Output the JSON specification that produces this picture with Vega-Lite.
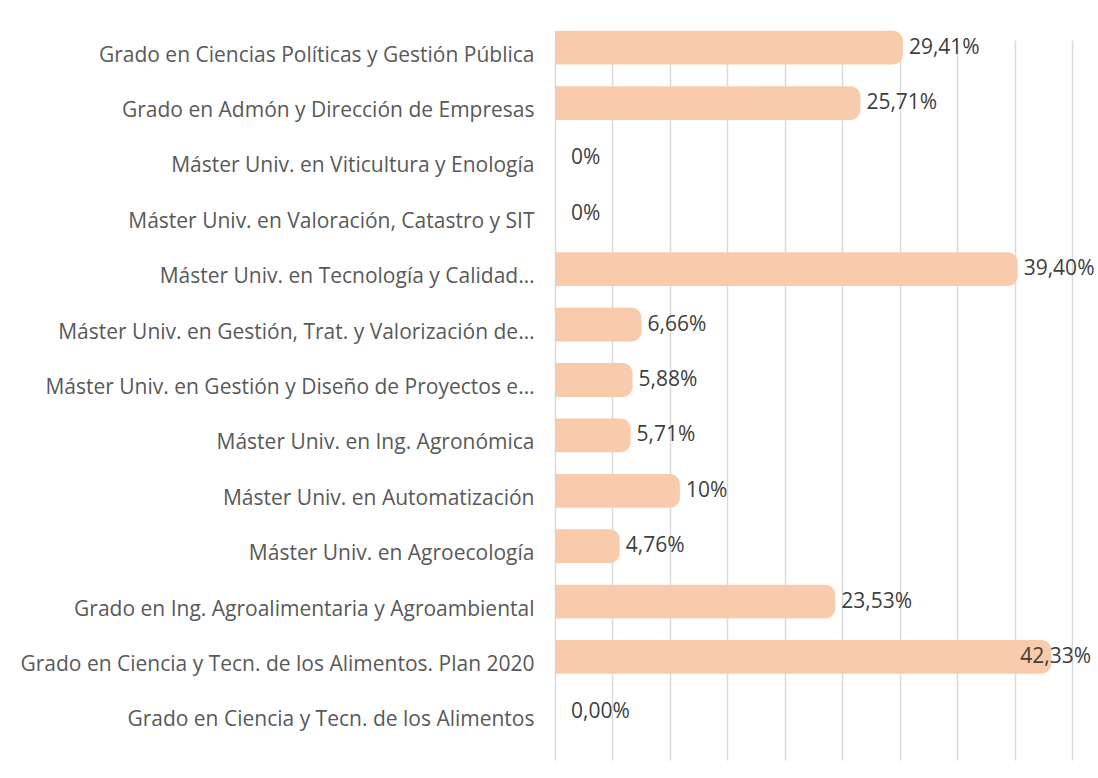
{
  "$schema": "https://vega.github.io/schema/vega-lite/v6.json",
  "autosize": "none",
  "width": 517,
  "height": 720,
  "padding": {"left": 555, "top": 30, "right": 26, "bottom": 28},
  "background": "white",
  "config": {"view": {"stroke": null}, "font": "Open Sans"},
  "data": {"values": [
    {"titulacion": "Grado en Ciencias Políticas y Gestión Pública", "valor": 29.41, "etiqueta": "29,41%"},
    {"titulacion": "Grado en Admón y Dirección de Empresas", "valor": 25.71, "etiqueta": "25,71%"},
    {"titulacion": "Máster Univ. en Viticultura y Enología", "valor": 0, "etiqueta": "0%"},
    {"titulacion": "Máster Univ. en Valoración, Catastro y SIT", "valor": 0, "etiqueta": "0%"},
    {"titulacion": "Máster Univ. en Tecnología y Calidad…", "valor": 39.40, "etiqueta": "39,40%"},
    {"titulacion": "Máster Univ. en Gestión, Trat. y Valorización de…", "valor": 6.66, "etiqueta": "6,66%"},
    {"titulacion": "Máster Univ. en Gestión y Diseño de Proyectos e…", "valor": 5.88, "etiqueta": "5,88%"},
    {"titulacion": "Máster Univ. en Ing. Agronómica", "valor": 5.71, "etiqueta": "5,71%"},
    {"titulacion": "Máster Univ. en Automatización", "valor": 10, "etiqueta": "10%"},
    {"titulacion": "Máster Univ. en Agroecología", "valor": 4.76, "etiqueta": "4,76%"},
    {"titulacion": "Grado en Ing. Agroalimentaria y Agroambiental", "valor": 23.53, "etiqueta": "23,53%"},
    {"titulacion": "Grado en Ciencia y Tecn. de los Alimentos. Plan 2020", "valor": 42.33, "etiqueta": "42,33%"},
    {"titulacion": "Grado en Ciencia y Tecn. de los Alimentos", "valor": 0, "etiqueta": "0,00%"}
  ]},
  "encoding": {
    "y": {"field": "titulacion", "type": "nominal",
      "sort": [
        "Grado en Ciencias Políticas y Gestión Pública",
        "Grado en Admón y Dirección de Empresas",
        "Máster Univ. en Viticultura y Enología",
        "Máster Univ. en Valoración, Catastro y SIT",
        "Máster Univ. en Tecnología y Calidad…",
        "Máster Univ. en Gestión, Trat. y Valorización de…",
        "Máster Univ. en Gestión y Diseño de Proyectos e…",
        "Máster Univ. en Ing. Agronómica",
        "Máster Univ. en Automatización",
        "Máster Univ. en Agroecología",
        "Grado en Ing. Agroalimentaria y Agroambiental",
        "Grado en Ciencia y Tecn. de los Alimentos. Plan 2020",
        "Grado en Ciencia y Tecn. de los Alimentos"
      ],
      "scale": {"paddingInner": 0.39, "paddingOuter": 0.195, "range": [-10, 710]},
      "axis": {"title": null, "ticks": false, "domain": false, "grid": false, "labelPadding": 21,
        "labelOffset": 8, "labelLimit": 0, "labelFontSize": 21, "labelColor": "#595959", "labelFont": "Open Sans"}}
  },
  "layer": [
    {
      "transform": [{"filter": "datum.valor > 0"}],
      "mark": {"type": "bar", "color": "#F8CBAD", "xOffset": 10, "cornerRadiusTopRight": 10, "cornerRadiusBottomRight": 10},
      "encoding": {
        "x": {"field": "valor", "type": "quantitative",
          "scale": {"domain": [0, 45], "nice": false, "zero": true},
          "axis": {"title": null, "labels": false, "ticks": false, "domain": false, "grid": true,
            "values": [0, 5, 10, 15, 20, 25, 30, 35, 40, 45], "gridColor": "#D9D9D9", "gridWidth": 1.5}},
        "x2": {"datum": 0}
      }
    },
    {
      "mark": {"type": "text", "align": "left", "baseline": "middle", "fontSize": 21, "color": "#404040",
        "dx": {"expr": "datum.valor > 40 ? -21 : 16"}},
      "encoding": {
        "x": {"field": "valor", "type": "quantitative"},
        "text": {"field": "etiqueta"}
      }
    }
  ]
}
